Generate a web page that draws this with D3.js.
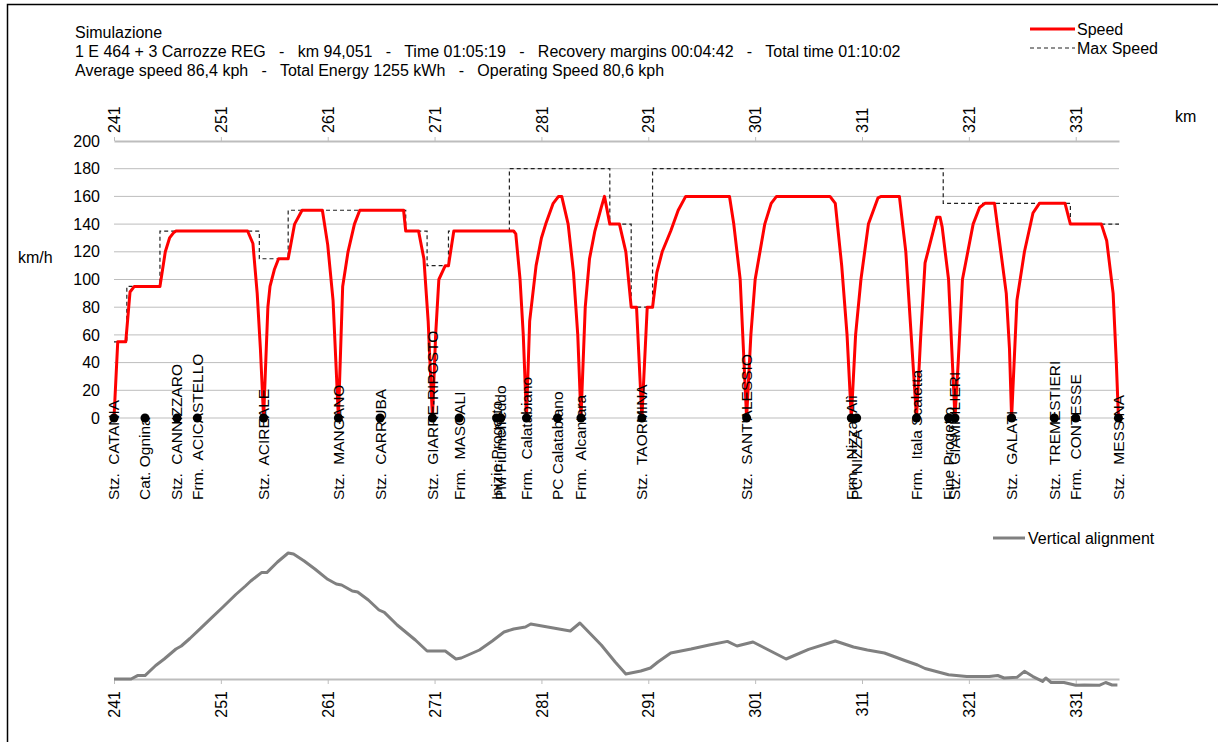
<!DOCTYPE html>
<html lang="it">
<head>
  <meta charset="UTF-8">
  <title>Simulazione</title>
  <script src="https://cdn.jsdelivr.net/npm/d3@7"></script>
  <style>
    body { margin: 0; background: #fff; }
    text { font-family: "Liberation Sans", Arial, sans-serif; fill: #000; }
  </style>
</head>
<body>
  <svg width="1218" height="742" id="mainsvg"></svg>
  <script>
    // header lines
    const headerLines = [
      'Simulazione',
      '1 E 464 + 3 Carrozze REG   -   km 94,051   -   Time 01:05:19   -   Recovery margins 00:04:42   -   Total time 01:10:02',
      'Average speed 86,4 kph   -   Total Energy 1255 kWh   -   Operating Speed 80,6 kph'
    ]

    const kmTicks = [241, 251, 261, 271, 281, 291, 301, 311, 321, 331]
    const speedTicks = [0, 20, 40, 60, 80, 100, 120, 140, 160, 180, 200]

    // stations: name, km
    const stationNames = ['Stz.  CATANIA', 'Cat. Ognina', 'Stz.  CANNIZZARO', 'Frm.  ACICASTELLO', 'Stz.  ACIREALE',
      'Stz.  MANGANO', 'Stz.  CARRUBA', 'Stz.  GIARRE-RIPOSTO', 'Frm.  MASCALI', 'Inizio Progetto', 'PM Fiumefreddo',
      'Frm.  Calatabiano', 'PC Calatabiano', 'Frm.  Alcantara', 'Stz.  TAORMINA', "Stz.  SANT'ALESSIO",
      'Frm.  Nizza  Alì', 'PC NIZZA', 'Frm.  Itala Scaletta', 'Fine Progetto', 'Stz.  GIAMPILIERI', 'Stz.  GALATI',
      'Stz.  TREMESTIERI', 'Frm.  CONTESSE', 'Stz.  MESSINA']
    const stationKm = [241.0, 243.9, 246.9, 248.8, 255.0, 262.0, 265.9, 270.8, 273.3, 276.8, 277.2,
      279.6, 282.5, 284.7, 290.4, 300.2, 310.0, 310.5, 316.1, 319.1, 319.7, 325.0, 329.0, 331.0, 335.0]

    // max speed (step after each break)
    const maxSpeedKm = [241.0, 242.2, 245.3, 254.6, 257.3, 268.3, 270.3, 272.3, 278.0, 287.4, 289.4, 291.4, 318.6, 330.5, 335.05]
    const maxSpeedVal = [55, 95, 135, 115, 150, 135, 110, 135, 180, 140, 80, 180, 155, 140, 140]

    // simulated speed [km, km/h]
    const speedProfile = [
      [241.0,0],[241.35,55],[242.1,55],[242.5,91],[242.9,95],[245.3,95],[245.8,120],[246.2,130],[246.6,134],[246.8,135],
      [253.5,135],[254.0,126],[254.4,90],[254.7,50],[255.0,0],[255.4,80],[255.6,95],[256.0,107],[256.4,115],[257.3,115],
      [257.9,140],[258.6,150],[260.5,150],[261.0,125],[261.5,85],[262.0,0],[262.4,95],[262.9,120],[263.5,140],[264.0,150],
      [268.1,150],[268.3,135],[269.5,135],[270.0,115],[270.4,70],[270.8,0],[271.1,60],[271.4,100],[272.0,110],[272.3,110],
      [272.8,135],[278.4,135],[278.6,133],[279.0,100],[279.3,60],[279.6,0],[279.9,70],[280.5,110],[281.0,130],[281.4,140],
      [282.1,155],[282.6,160],[282.9,160],[283.5,140],[284.0,105],[284.4,60],[284.7,0],[285.1,80],[285.5,115],[286.0,135],
      [286.6,152],[286.9,160],[287.4,140],[288.3,140],[288.9,120],[289.4,80],[289.9,80],[290.4,0],[290.9,80],[291.4,80],
      [291.8,105],[292.3,120],[293.1,135],[293.8,150],[294.5,160],[298.6,160],[299.0,140],[299.6,100],[299.9,50],[300.2,0],
      [300.6,60],[301.0,100],[301.9,140],[302.5,155],[303.0,160],[308.0,160],[308.5,155],[309.1,110],[309.6,60],[310.0,0],
      [310.4,60],[310.9,100],[311.6,140],[312.5,159],[312.8,160],[314.5,160],[315.1,120],[315.6,60],[316.1,0],[316.5,60],
      [316.9,112],[318.0,145],[318.3,145],[318.5,138],[319.1,100],[319.4,50],[319.7,0],[320.0,40],[320.4,100],[321.4,140],
      [322.0,152],[322.5,155],[323.4,155],[324.5,90],[324.8,50],[325.0,0],[325.5,85],[326.2,120],[327.0,148],[327.6,155],
      [330.0,155],[330.5,140],[333.4,140],[333.9,128],[334.5,90],[334.8,40],[335.0,0]
    ]

    // vertical alignment [km, elevation]
    const elevation = [
      [241.0,0],[242.6,0],[243.2,3.4],[243.9,3.4],[244.9,13.5],[245.7,20],[246.8,30],[247.3,33],[248.1,40.5],[249.1,50.7],
      [250.1,60.8],[251.1,71],[252.4,84.5],[253.3,93],[253.8,98],[254.8,106.4],[255.3,106.4],[256.3,117],[257.3,126],
      [257.8,125],[258.8,118],[259.8,110],[261.0,99.7],[261.8,95],[262.3,94],[263.3,88],[263.8,87],[264.8,79],[265.8,69],
      [266.3,66.6],[267.5,54],[269.2,39],[270.3,28],[272.0,28],[273.0,20],[273.5,21],[275.2,29],[276.4,38],[277.5,47],
      [278.4,50],[279.5,52],[280.0,55],[283.7,48],[284.6,56],[286.6,34],[287.9,17],[288.9,5],[290.3,8],[291.2,11],
      [291.9,17],[293.1,26],[295.0,30],[296.7,34],[298.4,37.6],[299.3,33],[300.8,37],[303.9,20],[306.0,29.6],[308.5,38],
      [310.2,32],[311.5,29],[313.1,26],[315.0,18.5],[316.2,14],[316.9,10.5],[319.1,4.2],[320.8,2.4],[322.9,2.4],[323.7,3.5],
      [324.3,1],[325.5,1.7],[326.2,7.7],[327.0,2.4],[327.9,-2.4],[328.2,1],[328.7,-3.5],[329.9,-3.5],[331.0,-6.3],
      [331.8,-6],[333.2,-6.3],[333.8,-3.5],[334.4,-6],[334.9,-6]
    ]

    const svg = d3.select('#mainsvg')
    const fs = 16
    const fsLabel = 15.5
    const font = '"Liberation Sans", Arial, sans-serif'

    // frame (left and top edges)
    svg.append('path').attr('d', 'M7.5,742 V4.5 H1218').attr('fill', 'none').attr('stroke', '#000').attr('stroke-width', 1.5)

    const xScale = d3.scaleLinear().domain([241, 335.05]).range([114, 1119])
    const yScale = d3.scaleLinear().domain([0, 200]).range([418, 141])
    const eScale = d3.scaleLinear().domain([0, 126]).range([679, 553])

    // header
    svg.append('g').selectAll('text').data(headerLines).join('text')
      .attr('x', 75).attr('y', (d, i) => 38 + i * 19)
      .attr('font-size', fs).style('white-space', 'pre')
      .text(d => d)

    // gridlines
    svg.append('g').selectAll('line').data(speedTicks.filter(d => d < 200)).join('line')
      .attr('x1', xScale.range()[0]).attr('x2', xScale.range()[1])
      .attr('y1', d => yScale(d)).attr('y2', d => yScale(d))
      .attr('stroke', '#bdbdbd').attr('stroke-width', 1)

    // y axis
    const yAxis = d3.axisLeft(yScale).tickValues(speedTicks).tickSize(0).tickPadding(14)
    const yg = svg.append('g').attr('transform', `translate(${xScale.range()[0]},0)`).call(yAxis)
    yg.select('.domain').remove()
    yg.selectAll('text').attr('font-size', fs).attr('font-family', font)

    svg.append('text').text('km/h').attr('x', 18).attr('y', 263).attr('font-size', fs)
    svg.append('text').text('km').attr('x', 1175).attr('y', 122).attr('font-size', fs)

    // top km axis
    const topAxis = d3.axisTop(xScale).tickValues(kmTicks).tickSize(4).tickSizeOuter(0)
    const tg = svg.append('g').attr('transform', `translate(0,${yScale(200)})`).call(topAxis)
    tg.select('.domain').attr('stroke', '#bdbdbd').attr('stroke-width', 2)
    tg.selectAll('.tick line').attr('stroke', '#bdbdbd')
    tg.selectAll('.tick text')
      .attr('transform', 'rotate(-90)').attr('x', 8).attr('y', 0).attr('dy', '0.35em')
      .attr('text-anchor', 'start').attr('font-size', fs).attr('font-family', font)

    // max speed
    const maxLine = d3.line().x(d => xScale(d[0])).y(d => yScale(d[1])).curve(d3.curveStepAfter)
    svg.append('path').datum(maxSpeedKm.map((k, i) => [k, maxSpeedVal[i]]))
      .attr('d', maxLine).attr('fill', 'none').attr('stroke', '#222').attr('stroke-width', 1.2)
      .attr('stroke-dasharray', '4,3')

    // speed
    const spLine = d3.line().x(d => xScale(d[0])).y(d => yScale(d[1]))
    svg.append('path').datum(speedProfile)
      .attr('d', spLine).attr('fill', 'none').attr('stroke', '#ff0000').attr('stroke-width', 3)
      .attr('stroke-linejoin', 'round')

    // stations
    const stations = stationNames.map((n, i) => ({name: n, km: stationKm[i]}))
    svg.append('g').selectAll('circle').data(stations).join('circle')
      .attr('cx', d => xScale(d.km)).attr('cy', yScale(0)).attr('r', 4.5).attr('fill', '#000')
    svg.append('g').selectAll('text').data(stations).join('text')
      .attr('transform', d => `translate(${xScale(d.km)},500) rotate(-90)`)
      .attr('dy', '0.35em').attr('font-size', fsLabel).style('white-space', 'pre')
      .text(d => d.name)

    // legend top
    svg.append('line').attr('x1', 1030).attr('x2', 1075).attr('y1', 29).attr('y2', 29)
      .attr('stroke', '#ff0000').attr('stroke-width', 3)
    svg.append('text').text('Speed').attr('x', 1077).attr('y', 29).attr('dy', '0.35em').attr('font-size', fs)
    svg.append('line').attr('x1', 1030).attr('x2', 1075).attr('y1', 48).attr('y2', 48)
      .attr('stroke', '#222').attr('stroke-width', 1.2).attr('stroke-dasharray', '4,3')
    svg.append('text').text('Max Speed').attr('x', 1077).attr('y', 48).attr('dy', '0.35em').attr('font-size', fs)

    // vertical alignment
    const bottomAxis = d3.axisBottom(xScale).tickValues(kmTicks).tickSize(5).tickSizeOuter(0)
    const bg = svg.append('g').attr('transform', `translate(0,${eScale(0)})`).call(bottomAxis)
    bg.select('.domain').attr('stroke', '#bdbdbd').attr('stroke-width', 2)
    bg.selectAll('.tick line').attr('stroke', '#bdbdbd')
    bg.selectAll('.tick text')
      .attr('transform', 'rotate(-90)').attr('x', -12).attr('y', 0).attr('dy', '0.35em')
      .attr('text-anchor', 'end').attr('font-size', fs).attr('font-family', font)

    const eLine = d3.line().x(d => xScale(d[0])).y(d => eScale(d[1]))
    svg.append('path').datum(elevation)
      .attr('d', eLine).attr('fill', 'none').attr('stroke', '#808080').attr('stroke-width', 3)
      .attr('stroke-linejoin', 'round')

    svg.append('line').attr('x1', 993).attr('x2', 1025).attr('y1', 538).attr('y2', 538)
      .attr('stroke', '#808080').attr('stroke-width', 3)
    svg.append('text').text('Vertical alignment').attr('x', 1028).attr('y', 538).attr('dy', '0.35em').attr('font-size', fs)
  </script>
</body>
</html>
